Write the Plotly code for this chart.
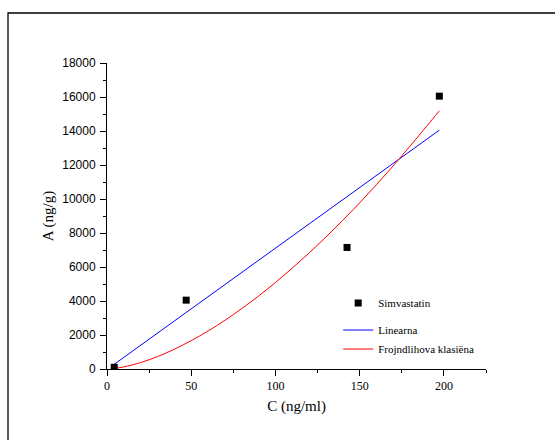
import plotly.graph_objects as go

# Measured data (Simvastatin)
c_meas = [4.3, 47, 142.5, 197.3]
a_meas = [100, 4050, 7150, 16050]

# Linear fit line
c_lin = [3.9, 197.3]
a_lin = [250, 14050]

# Freundlich fit curve
c_fr = [4, 10, 20, 30, 40, 50, 60, 70, 80, 90, 100, 110, 120, 130, 140, 150,
        160, 170, 180, 190, 197.3]
a_fr = [30, 125, 380, 730, 1165, 1670, 2235, 2865, 3555, 4295, 5090, 5935,
        6825, 7765, 8750, 9775, 10845, 11960, 13120, 14310, 15190]

x_ticks = [0, 50, 100, 150, 200]
y_ticks = [0, 2000, 4000, 6000, 8000, 10000, 12000, 14000, 16000, 18000]

serif = "Liberation Serif, Times New Roman, serif"
sans = "Liberation Sans, Arial, sans-serif"

fig = go.Figure()
fig.add_trace(go.Scatter(x=c_lin, y=a_lin, mode="lines", name="Linearna",
                         line=dict(color="#0000ff", width=1),
                         legendgroup="fit", legendrank=2))
fig.add_trace(go.Scatter(x=c_fr, y=a_fr, mode="lines", name="Frojndlihova klasiëna",
                         line=dict(color="#ff0000", width=1, shape="spline"),
                         legendgroup="fit", legendrank=3))
fig.add_trace(go.Scatter(x=c_meas, y=a_meas, mode="markers", name="Simvastatin",
                         marker=dict(symbol="square", size=7, color="black"),
                         legendgroup="data", legendrank=1))

W, H = 555, 440
L, R, T, B = 107, 69, 63, 71
pw, ph = W - L - R, H - T - B

fx0 = (8 - L) / pw
fx1 = (W - L) / pw
fy1 = (H - B - 13) / ph
fy0 = -B / ph
frame_path = f"M{fx0:.4f},{fy0:.4f} L{fx0:.4f},{fy1:.4f} L{fx1:.4f},{fy1:.4f}"

fig.update_layout(
    width=W, height=H,
    margin=dict(l=L, r=R, t=T, b=B, autoexpand=False),
    paper_bgcolor="white", plot_bgcolor="white",
    showlegend=True,
    legend=dict(x=0.61, y=0.263, xanchor="left", yanchor="top",
                font=dict(family=serif, size=11, color="black"),
                bgcolor="rgba(0,0,0,0)", traceorder="grouped",
                tracegroupgap=8, itemwidth=30),
    xaxis=dict(range=[0, 225], tickvals=x_ticks, ticktext=[str(v) for v in x_ticks],
               showgrid=False, zeroline=False, showline=True, linecolor="black",
               linewidth=1, ticks="outside", ticklen=6, tickcolor="black",
               tickfont=dict(family=serif, size=12, color="black"),
               minor=dict(dtick=25, ticks="outside", ticklen=3, tickcolor="black"),
               title=dict(text="C (ng/ml)", font=dict(family=serif, size=15, color="black"),
                          standoff=8),
               automargin=False),
    yaxis=dict(range=[0, 18000], tickvals=y_ticks, ticktext=[str(v) for v in y_ticks],
               showgrid=False, zeroline=False, showline=True, linecolor="black",
               linewidth=1, ticks="outside", ticklen=6, tickcolor="black",
               tickfont=dict(family=sans, size=12, color="black"),
               minor=dict(dtick=1000, ticks="outside", ticklen=3, tickcolor="black"),
               ticklabelstandoff=2,
               title=dict(text="A (ng/g)", font=dict(family=serif, size=15, color="black"),
                          standoff=4),
               automargin=False),
    shapes=[
        dict(type="path", xref="paper", yref="paper", path=frame_path,
             line=dict(color="black", width=1.3), fillcolor="rgba(0,0,0,0)",
             layer="below"),
    ],
)

fig.write_html("out.html")
